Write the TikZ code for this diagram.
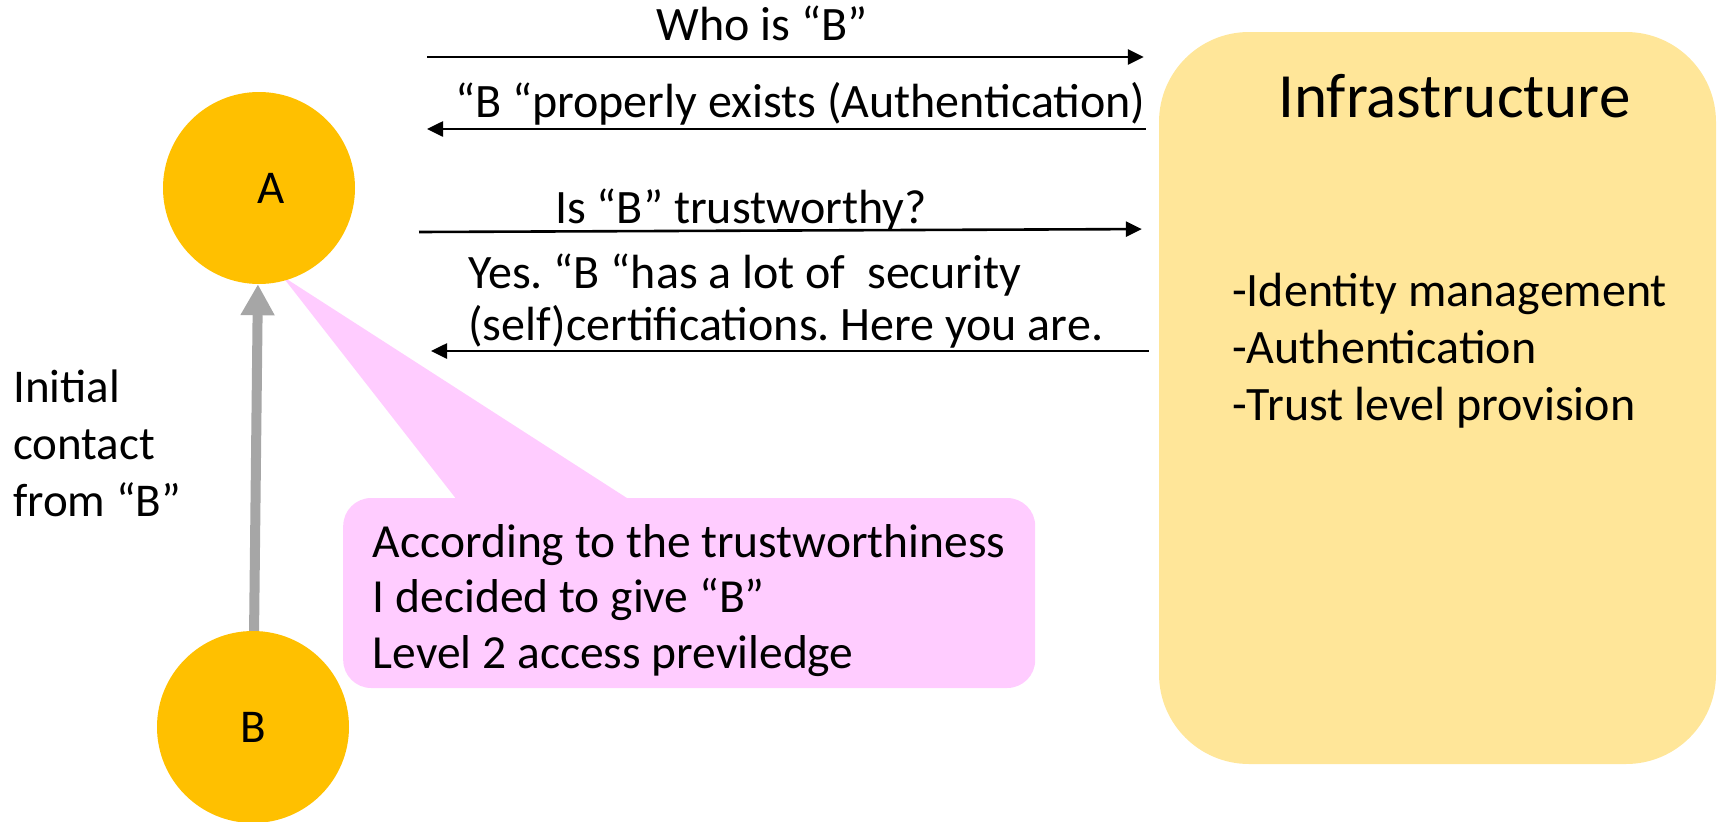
\documentclass[tikz,border=0pt]{standalone}
\usepackage{fontspec}
\setmainfont{Carlito}
\usetikzlibrary{arrows.meta}
\definecolor{partyfill}{RGB}{255,192,0}
\definecolor{infrafill}{RGB}{255,230,153}
\definecolor{calloutfill}{RGB}{255,204,255}
\definecolor{contactgray}{RGB}{166,166,166}
\frenchspacing
\begin{document}
\frenchspacing
\begin{tikzpicture}[x=1pt,y=-1pt,
  party/.style={circle,fill=partyfill,minimum size=192pt,inner sep=0pt,
    font=\fontsize{47}{56}\selectfont},
  infrabox/.style={fill=infrafill,rounded corners=90pt,minimum width=557pt,
    minimum height=732pt,inner sep=0pt},
  notebox/.style={fill=calloutfill,rounded corners=28pt,minimum width=692pt,
    inner xsep=27pt,inner ysep=0pt,text height=59pt,text depth=131pt,
    anchor=base west,font=\fontsize{47.5}{55.5}\selectfont},
  txt/.style={inner sep=0pt,anchor=base west,font=\fontsize{47}{57}\selectfont},
  listtxt/.style={inner sep=0pt,anchor=base west,font=\fontsize{48}{57}\selectfont},
  msgtxt/.style={inner sep=0pt,anchor=base west,font=\fontsize{48}{52}\selectfont},
  msg/.style={line width=2.6pt,-{Triangle[length=16pt,width=15pt]}},
  contact/.style={line width=10pt,draw=contactgray,
    -{Triangle[length=31pt,width=32pt]}}]
\clip (0,0) rectangle (1717,822);

% infrastructure box
\node[infrabox] (infra) at (1437.5,398) {};
\node[txt,font=\fontsize{63}{70}\selectfont] (title) at (1278,117) {Infrastructure};
\node[listtxt] (duties) at (1232,306)
  {\vtop{\hbox{-Identity management}\hbox{-Authentication}\hbox{-Trust level provision}}};

% callout
\coordinate (tip) at (282,276);
\node[notebox] (note) at (343,557)
  {\vtop{\hbox{According to the trustworthiness}\hbox{I decided to give “B”}\hbox{Level 2 access previledge}}};
\fill[calloutfill] (tip) -- (457,500) -- (630,500) -- cycle;

% parties
\node[party] (A) at (259,188) {\hspace*{25pt}A};
\node[party] (B) at (253,727) {B};
\draw[contact] (B) -- (A);
\node[txt] (initlbl) at (13,402)
  {\vtop{\hbox{Initial}\hbox{contact}\hbox{from “B”}}};

% messages
\coordinate (m1) at (427,57);
\coordinate (m2) at (427,129);
\coordinate (m3) at (419,232);
\coordinate (m4) at (431,351);
\draw[msg,shorten >=15pt] (m1) -- (m1 -| infra.west);
\draw[msg,shorten <=13pt] (m2 -| infra.west) -- (m2);
\draw[msg,shorten >=17pt] (m3) -- ([yshift=3pt]m3 -| infra.west);
\draw[msg,shorten <=10pt] (m4 -| infra.west) -- (m4);

\node[msgtxt,anchor=base] (t1) at (762,40) {Who is “B”};
\node[msgtxt] (t2) at (455,117) {“B “properly exists (Authentication)};
\node[msgtxt] (t3) at (555,223) {Is “B” trustworthy?};
\node[msgtxt] (t4) at (468,288)
  {\vtop{\hbox{Yes. “B “has a lot of \ security}\hbox{(self)certifications. Here you are.}}};
\end{tikzpicture}
\end{document}
